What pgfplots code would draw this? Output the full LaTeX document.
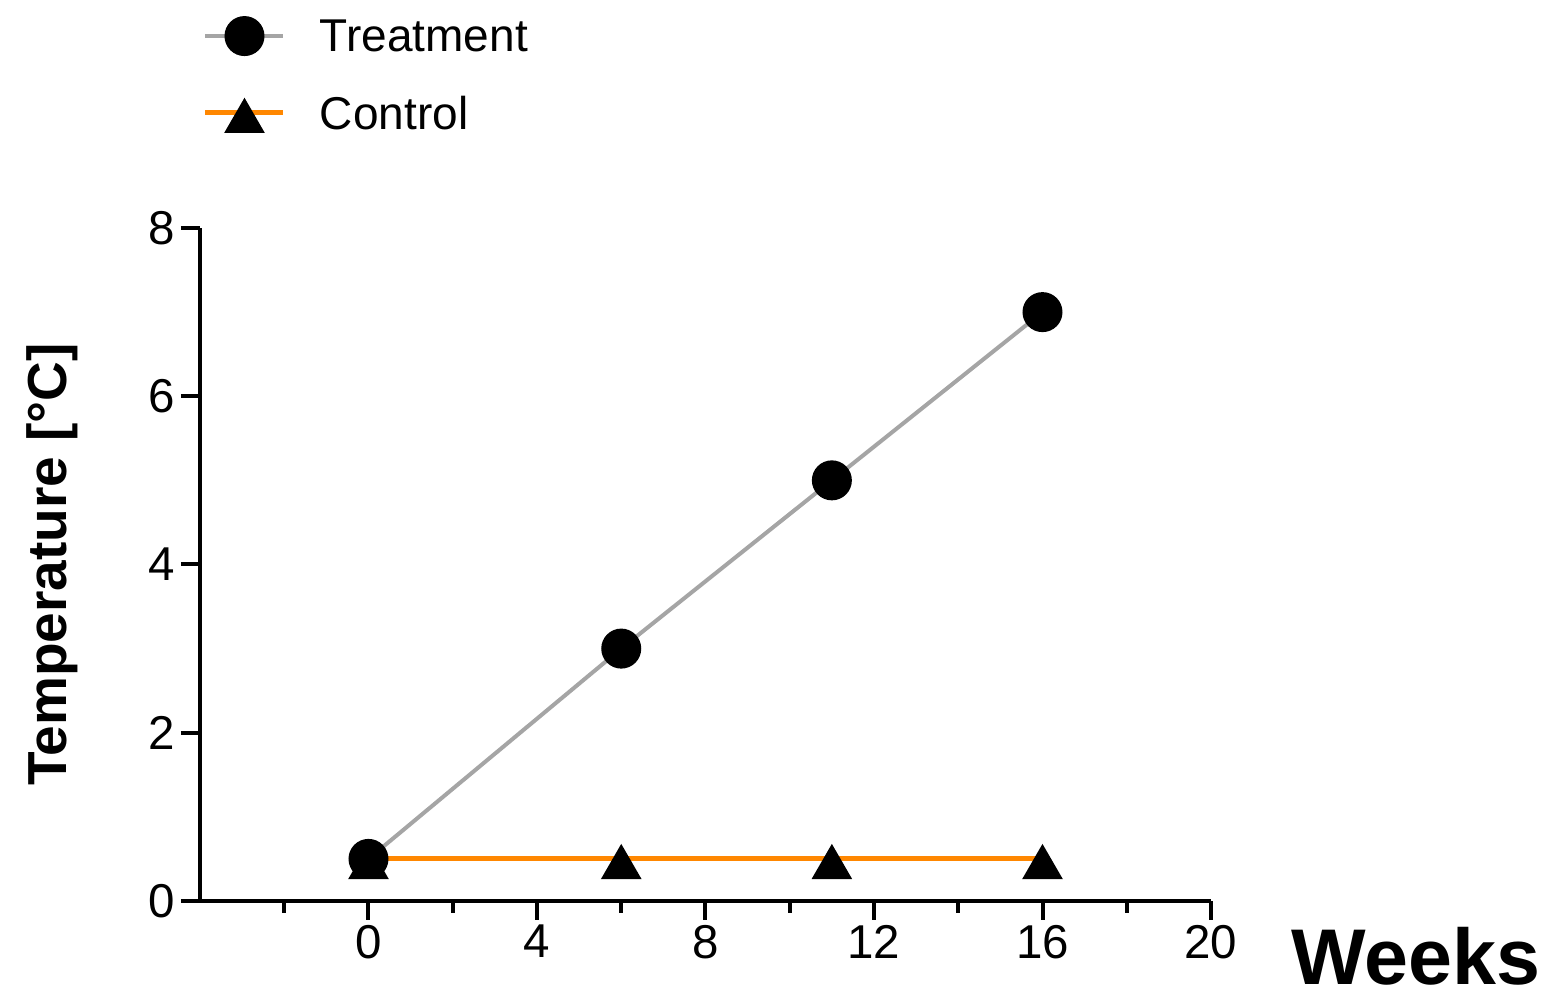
\documentclass[border=0pt]{standalone}
\usepackage{fontspec}
\setmainfont{Liberation Sans}
\usepackage{pgfplots}
\pgfplotsset{compat=1.18}
\definecolor{tgray}{RGB}{165,165,165}
\definecolor{corange}{RGB}{255,135,0}
\begin{document}
\begin{tikzpicture}
\begin{axis}[
 scale only axis, width=202.2pt, height=134.6pt,
 xmin=-4, xmax=20, ymin=0, ymax=8,
 axis lines=left, axis line style={line width=0.8pt, -},
 xtick={0,4,8,12,16,20}, minor xtick={-2,2,6,10,14,18},
 ytick={0,2,4,6,8},
 tick align=outside, major tick length=3.8pt, minor tick length=2.4pt,
 tick style={line width=0.8pt, black},
 every tick label/.append style={font=\fontsize{9.5}{11}\selectfont},
 /pgf/number format/assume math mode=true,
 xticklabel style={inner sep=0pt, yshift=-0.8pt},
 yticklabel style={inner sep=0pt, xshift=-1pt},
 clip=false,
 ylabel={Temperature [°C]},
 ylabel style={font=\bfseries\fontsize{11}{13}\selectfont, at={([xshift=-26.6pt]rel axis cs:0,0.5)}, anchor=base, rotate=0},
 xlabel={Weeks},
 xlabel style={font=\bfseries\fontsize{15.8}{18}\selectfont, at={([xshift=12.6pt,yshift=-16.8pt]rel axis cs:1,0)}, anchor=base west},
 reverse legend,
 legend image code/.code={\draw[mark repeat=2,mark phase=2,#1] plot coordinates {(0pt,0pt) (7.8pt,0pt) (15.6pt,0pt)};},
 legend style={draw=none, fill=none, at={(rel axis cs:0,1)}, anchor=south west, xshift=0.4pt, yshift=19pt,
   inner sep=0pt, nodes={inner sep=0pt, text depth=0pt}, row sep=8.2pt, column sep=6.8pt,
   cells={anchor=west}, font=\fontsize{9.2}{11}\selectfont},
]
\addplot[corange, line width=1pt, mark=triangle*, mark size=4.3pt,
  mark options={black, fill=black, solid, line width=0.4pt, yshift=-1.7pt}]
  coordinates {(0,0.5) (6,0.5) (11,0.5) (16,0.5)};
\addlegendentry{Control}
\addplot[tgray, line width=0.8pt, mark=*, mark size=3.8pt,
  mark options={black, fill=black, line width=0.4pt}]
  coordinates {(0,0.5) (6,3) (11,5) (16,7)};
\addlegendentry{Treatment}
\coordinate (sw) at (rel axis cs:0,0);
\coordinate (ne) at (rel axis cs:1,1);
\end{axis}
\draw[line width=0.8pt] (sw) -- ++(-3.6pt,0);
\pgfresetboundingbox
\path ([shift={(-40pt,-18.8pt)}]sw) rectangle ([shift={(68.8pt,45.6pt)}]ne);
\end{tikzpicture}
\end{document}
